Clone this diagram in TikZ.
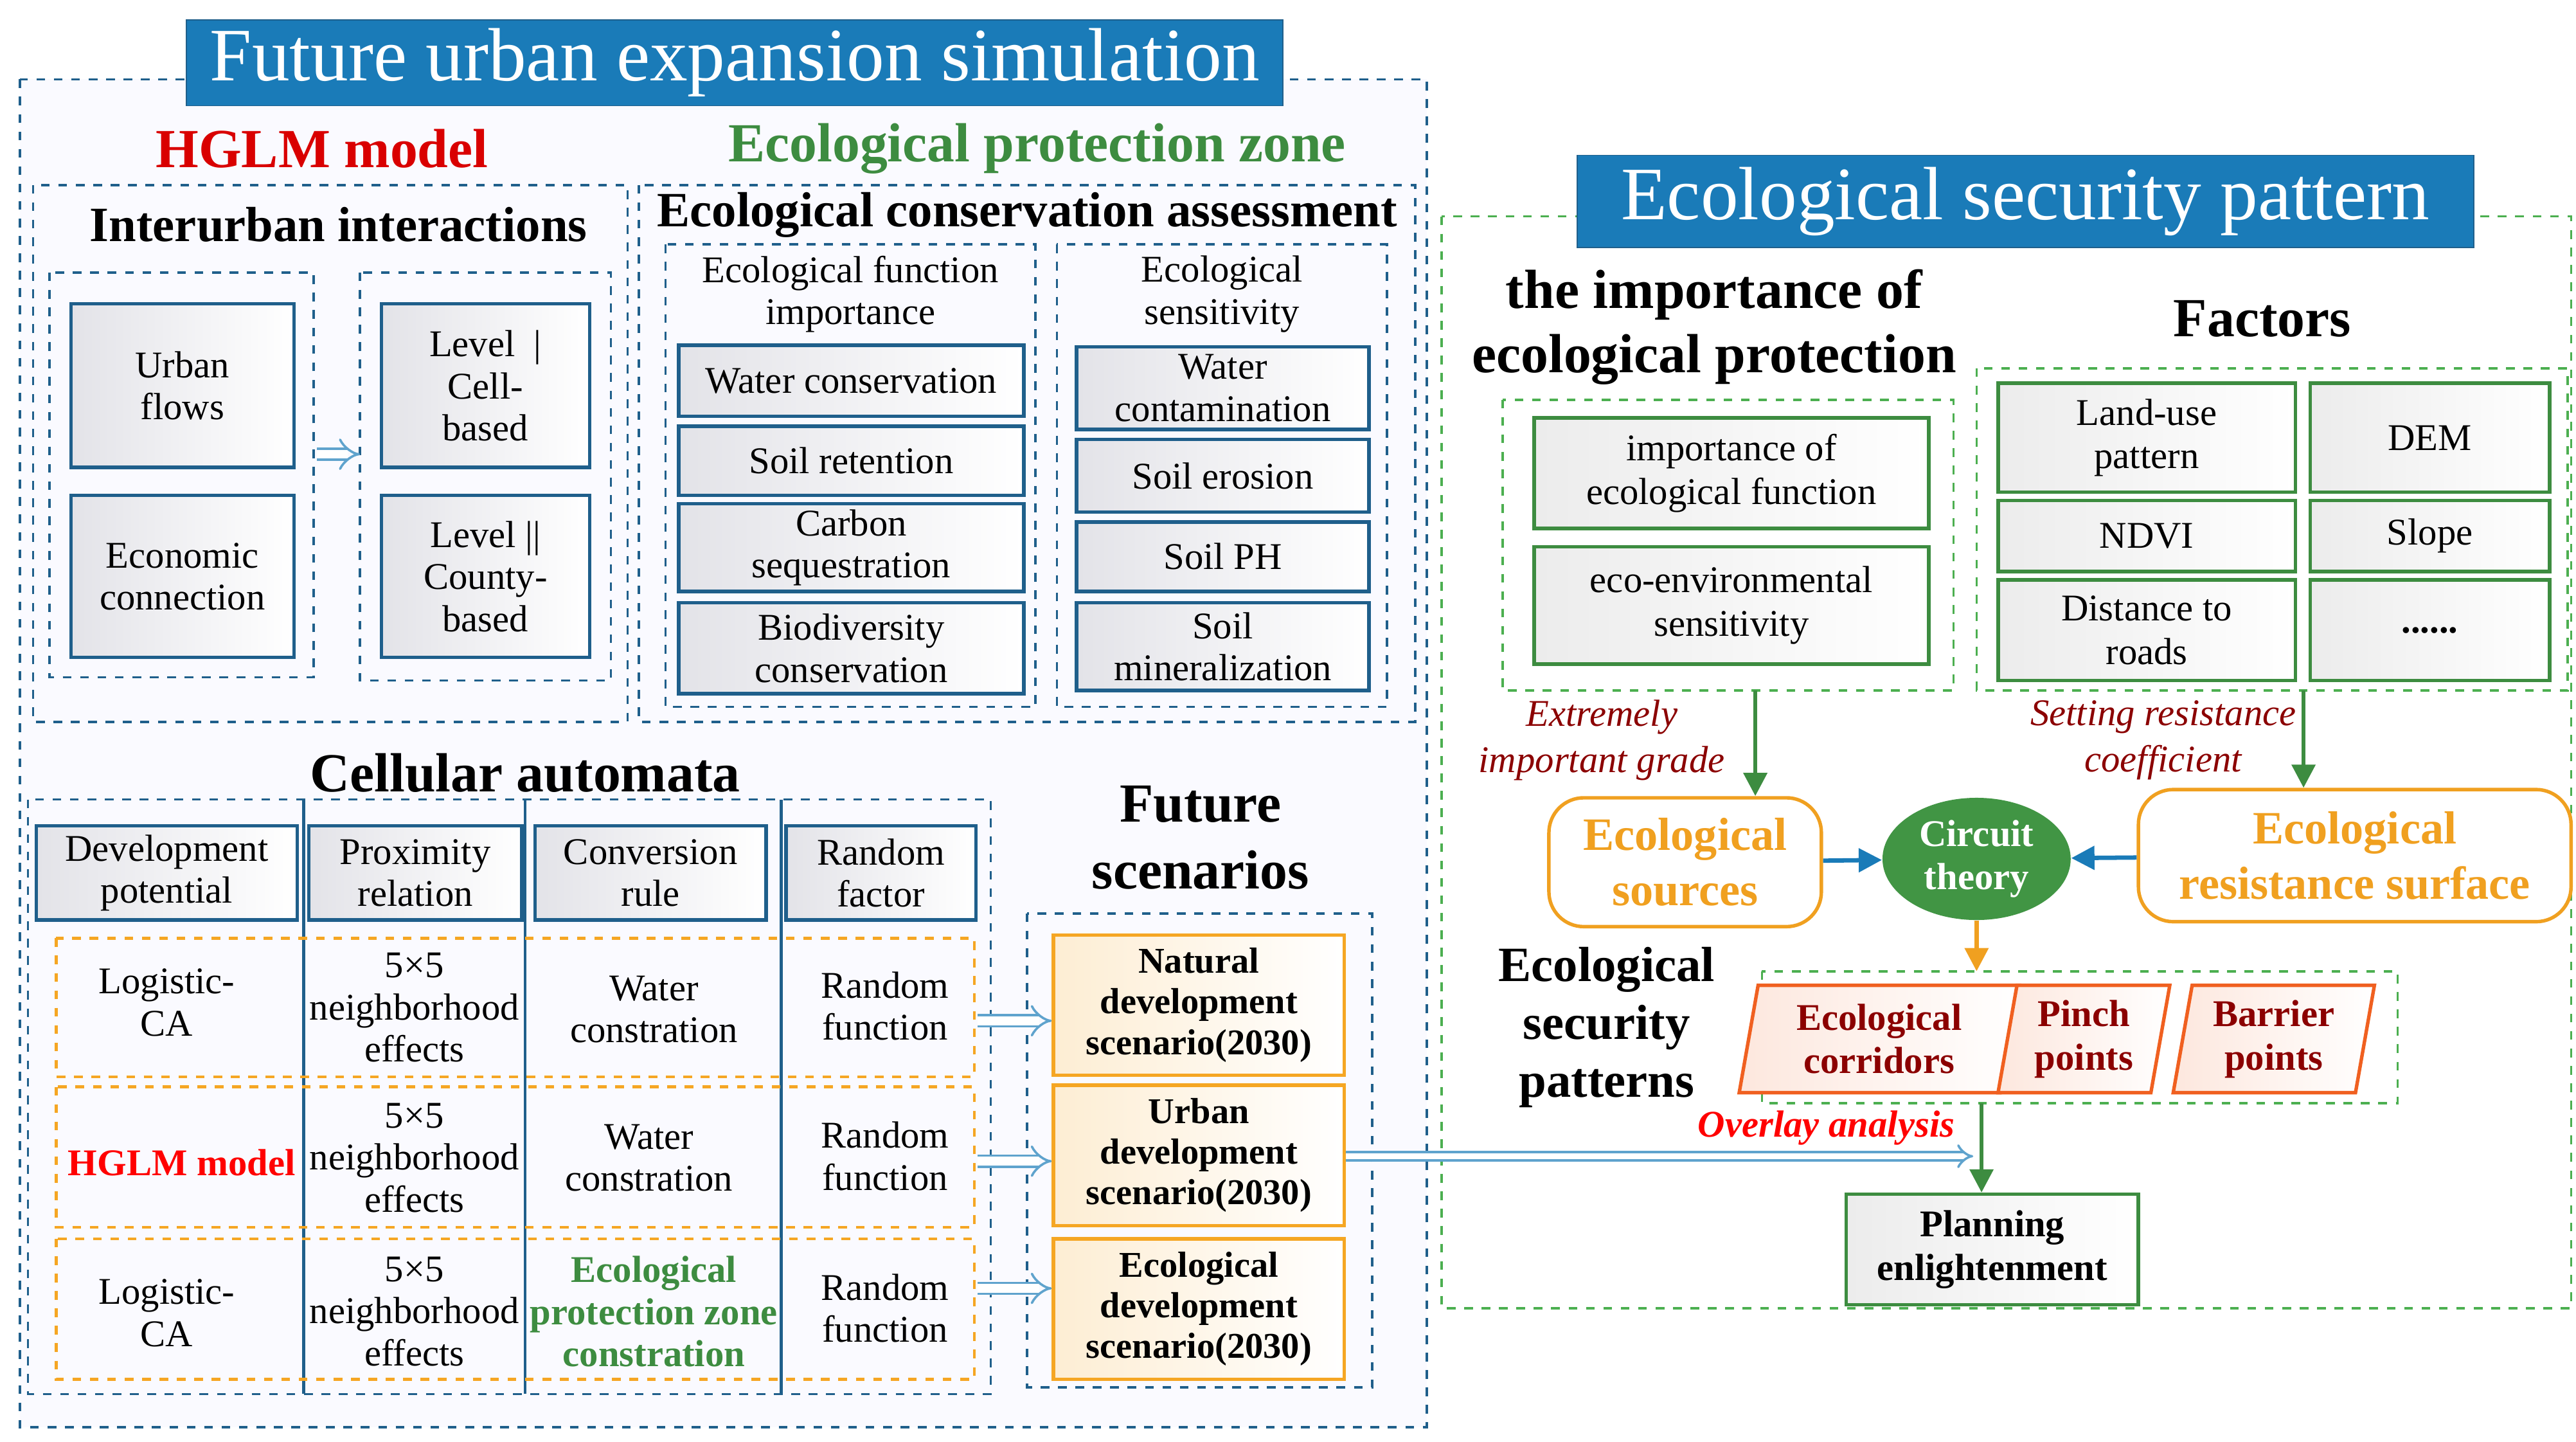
\documentclass[tikz,border=0pt]{standalone}
\usepackage{fontspec}
\setmainfont{Liberation Serif}
\usetikzlibrary{arrows.meta,shapes.geometric}
\definecolor{dblue}{HTML}{1F5F8B}
\definecolor{tblue}{HTML}{1A7BB8}
\definecolor{egreen}{HTML}{4CAF50}
\definecolor{eorange}{HTML}{F5A623}
\definecolor{dred}{HTML}{8B0000}
\definecolor{ored}{HTML}{F06020}
\definecolor{oyel}{HTML}{F0A020}
\newcommand\bx[7]{\node[#6, minimum width={(#4-#2)*0.02cm}, minimum height={(#5-#3)*0.02cm}, inner sep=0pt, align=center] (#1) at ({(#2+#4)/2},{(#3+#5)/2}) {#7};}
\tikzset{
 frame/.style={draw=dblue, dashed, line width=0.8pt},
 gframe/.style={draw=egreen, dashed, line width=0.8pt},
 oframe/.style={draw=eorange, dashed, line width=1pt},
 gbox/.style={draw=dblue, line width=1.2pt, left color=blue!10!gray!20, right color=white, font=\fontsize{13}{14.5}\selectfont},
 grbox/.style={draw=egreen!80!black, line width=1.2pt, left color=gray!15, right color=white, font=\fontsize{13}{15}\selectfont},
 obox/.style={draw=eorange, line width=1.2pt, left color=eorange!20, right color=white, font=\bfseries\fontsize{12.5}{14}\selectfont},
 ttl/.style={fill=tblue, draw=dblue, text=white, font=\fontsize{26}{28}\selectfont},
 hd/.style={font=\bfseries\fontsize{17}{20}\selectfont, align=center},
 body/.style={font=\fontsize{13}{14.5}\selectfont, align=center},
 openarr/.style={draw=tblue!70, double=white, double distance=3pt, line width=0.8pt, -{Implies}},
 garr/.style={draw=egreen!80!black, line width=1.5pt, -{Triangle[length=8pt,width=8pt]}},
 barr/.style={draw=tblue, line width=1.5pt, -{Triangle[length=8pt,width=8pt]}},
 oarr/.style={draw=oyel, line width=1.5pt, -{Triangle[length=8pt,width=8pt]}},
 rsrc/.style={draw=oyel, rounded corners=12pt, line width=1.2pt, fill=white, text=oyel, font=\bfseries\fontsize{16}{19}\selectfont},
 para/.style={trapezium, trapezium left angle=80, trapezium right angle=100, draw=ored, line width=1.2pt, left color=ored!15, right color=white, text=dred, font=\bfseries\fontsize{13}{15}\selectfont, align=center, inner sep=1pt}
}
\begin{document}
\begin{tikzpicture}[x=0.02cm,y=-0.02cm]
\useasboundingbox (0,0) rectangle (1560,873);
% left frame
\draw[frame, fill=blue!2] (12,48) rectangle (864,864);
\bx{t1}{113}{12}{777}{64}{ttl}{Future urban expansion simulation}
\node[hd, text=red!85!black, font=\bfseries\fontsize{19}{21}\selectfont] (hglm) at (195,90) {HGLM model};
\node[hd, text=egreen!80!black, font=\bfseries\fontsize{19}{21}\selectfont] (epz) at (628,90) {Ecological protection zone};
\draw[frame] (20,112) rectangle (380,437);
\node[hd] (ii) at (205,136) {Interurban interactions};
\draw[frame] (30,165) rectangle (190,410);
\draw[frame] (218,165) rectangle (370,412);
\bx{uf}{43}{184}{178}{283}{gbox}{Urban\\flows}
\bx{ec}{43}{300}{178}{398}{gbox}{Economic\\connection}
\bx{l1}{231}{184}{357}{283}{gbox}{Level \ \textbar\\Cell-\\based}
\bx{l2}{231}{300}{357}{398}{gbox}{Level \textbar\textbar\\County-\\based}
\coordinate (a1) at (192,275); \coordinate (a2) at (218,275);
\draw[openarr] (a1) -- (a2);
\draw[frame] (387,112) rectangle (857,437);
\node[hd] (eca) at (622,130) {Ecological conservation assessment};
\draw[frame] (403,148) rectangle (627,428);
\node[body] (efi) at (515,178) {Ecological function\\importance};
\bx{w1}{411}{209}{620}{252}{gbox}{Water conservation}
\bx{w2}{411}{258}{620}{300}{gbox}{Soil retention}
\bx{w3}{411}{305}{620}{358}{gbox}{Carbon\\sequestration}
\bx{w4}{411}{365}{620}{420}{gbox}{Biodiversity\\conservation}
\draw[frame] (640,148) rectangle (840,428);
\node[body] (es) at (740,178) {Ecological\\sensitivity};
\bx{s1}{652}{210}{829}{260}{gbox}{Water\\contamination}
\bx{s2}{652}{266}{829}{310}{gbox}{Soil erosion}
\bx{s3}{652}{316}{829}{358}{gbox}{Soil PH}
\bx{s4}{652}{365}{829}{418}{gbox}{Soil\\mineralization}
% CA
\node[hd, font=\bfseries\fontsize{19}{21}\selectfont] (ca) at (318,468) {Cellular automata};
\draw[frame] (17,484) rectangle (600,844);
\foreach \x in {184,318,473} \draw[dblue, line width=1pt] (\x,484) -- (\x,844);
\bx{h1}{22}{500}{180}{557}{gbox}{Development\\potential}
\bx{h2}{187}{500}{316}{557}{gbox}{Proximity\\relation}
\bx{h3}{324}{500}{464}{557}{gbox}{Conversion\\rule}
\bx{h4}{476}{500}{591}{557}{gbox}{Random\\factor}
\draw[oframe] (34,568) rectangle (590,652);
\draw[oframe] (34,658) rectangle (590,743);
\draw[oframe] (34,750) rectangle (590,835);
\node[body] (r11) at (101,607) {Logistic-\\CA};
\node[body] (r12) at (251,610) {5×5\\neighborhood\\effects};
\node[body] (r13) at (396,611) {Water\\constration};
\node[body] (r14) at (536,609) {Random\\function};
\node[body, text=red, font=\bfseries\fontsize{13}{15}\selectfont] (r21) at (110,704) {HGLM model};
\node[body] (r22) at (251,701) {5×5\\neighborhood\\effects};
\node[body] (r23) at (393,701) {Water\\constration};
\node[body] (r24) at (536,700) {Random\\function};
\node[body] (r31) at (101,795) {Logistic-\\CA};
\node[body] (r32) at (251,794) {5×5\\neighborhood\\effects};
\node[body, text=egreen!80!black, font=\bfseries\fontsize{13}{14.5}\selectfont] (r33) at (396,794) {Ecological\\protection zone\\constration};
\node[body] (r34) at (536,792) {Random\\function};
\node[hd, font=\bfseries\fontsize{19}{23}\selectfont] (fs) at (727,507) {Future\\scenarios};
\draw[frame] (622,553) rectangle (831,840);
\bx{sc1}{638}{566}{814}{651}{obox}{Natural\\development\\scenario(2030)}
\bx{sc2}{638}{657}{814}{742}{obox}{Urban\\development\\scenario(2030)}
\bx{sc3}{638}{750}{814}{835}{obox}{Ecological\\development\\scenario(2030)}
\coordinate (c1) at (592,618); \coordinate (c2) at (592,703); \coordinate (c3) at (592,780);
\draw[openarr] (c1) -- (c1 -| sc1.west);
\draw[openarr] (c2) -- (c2 -| sc2.west);
\draw[openarr] (c3) -- (c3 -| sc3.west);
% right
\draw[gframe] (873,131) rectangle (1557,792);
\bx{t2}{955}{94}{1498}{150}{ttl}{Ecological security pattern}
\node[hd, font=\bfseries\fontsize{19}{22}\selectfont] (iep) at (1038,198) {the importance of\\ecological protection};
\draw[gframe] (910,242) rectangle (1183,418);
\bx{ie1}{929}{253}{1168}{320}{grbox}{importance of\\ecological function}
\bx{ie2}{929}{331}{1168}{402}{grbox}{eco-environmental\\sensitivity}
\node[hd, font=\bfseries\fontsize{19}{21}\selectfont] (fac) at (1370,193) {Factors};
\draw[gframe] (1197,223) rectangle (1555,418);
\bx{f1}{1210}{232}{1390}{298}{grbox}{Land-use\\pattern}
\bx{f2}{1399}{232}{1544}{298}{grbox}{DEM}
\bx{f3}{1210}{303}{1390}{346}{grbox}{NDVI}
\bx{f4}{1399}{303}{1544}{346}{grbox}{Slope}
\bx{f5}{1210}{351}{1390}{412}{grbox}{Distance to\\roads}
\bx{f6}{1399}{351}{1544}{412}{grbox}{\textbf{......}}
\node[body, text=dred, font=\itshape\fontsize{13}{16}\selectfont] (eig) at (970,448) {Extremely\\important grade};
\node[body, text=dred, font=\itshape\fontsize{13}{16}\selectfont] (src) at (1310,448) {Setting resistance\\coefficient};
\bx{esrc}{938}{483}{1103}{561}{rsrc}{Ecological\\sources}
\bx{eres}{1295}{478}{1557}{558}{rsrc}{Ecological\\resistance surface}
\node[ellipse, fill=egreen!85!black, minimum width=2.28cm, minimum height=1.48cm, inner sep=0pt, text=white, align=center, font=\bfseries\fontsize{13}{15}\selectfont] (ct) at (1197,520) {Circuit\\theory};
\coordinate (g1) at (1063,418); \coordinate (g2) at (1395,418);
\draw[garr] (g1) -- (g1 |- esrc.north);
\draw[garr] (g2) -- (g2 |- eres.north);
\draw[barr] (esrc) -- (ct);
\draw[barr] (eres) -- (ct);
\node[hd, font=\bfseries\fontsize{17}{20}\selectfont] (esp) at (973,622) {Ecological\\security\\patterns};
\draw[gframe] (1067,588) rectangle (1452,668);
\node[para, minimum width=2.3cm, minimum height=1.3cm] (p1) at (1138,629) {Ecological\\corridors};
\node[para, minimum width=2.05cm, minimum height=1.3cm] (p2) at (1262,629) {Pinch\\points};
\node[para, minimum width=2.15cm, minimum height=1.3cm] (p3) at (1377,629) {Barrier\\points};
\coordinate (og) at (1197,588);
\draw[oarr] (ct) -- (og);
\node[text=red, font=\bfseries\itshape\fontsize{13}{15}\selectfont] (ov) at (1106,683) {Overlay analysis};
\bx{pl}{1118}{723}{1295}{790}{grbox}{\textbf{Planning}\\\textbf{enlightenment}}
\coordinate (g3) at (1200,668);
\draw[garr] (g3) -- (g3 |- pl.north);
\coordinate (la) at (1195,700);
\draw[openarr, double distance=2pt] (sc2.east |- la) -- (la);
\end{tikzpicture}
\end{document}
